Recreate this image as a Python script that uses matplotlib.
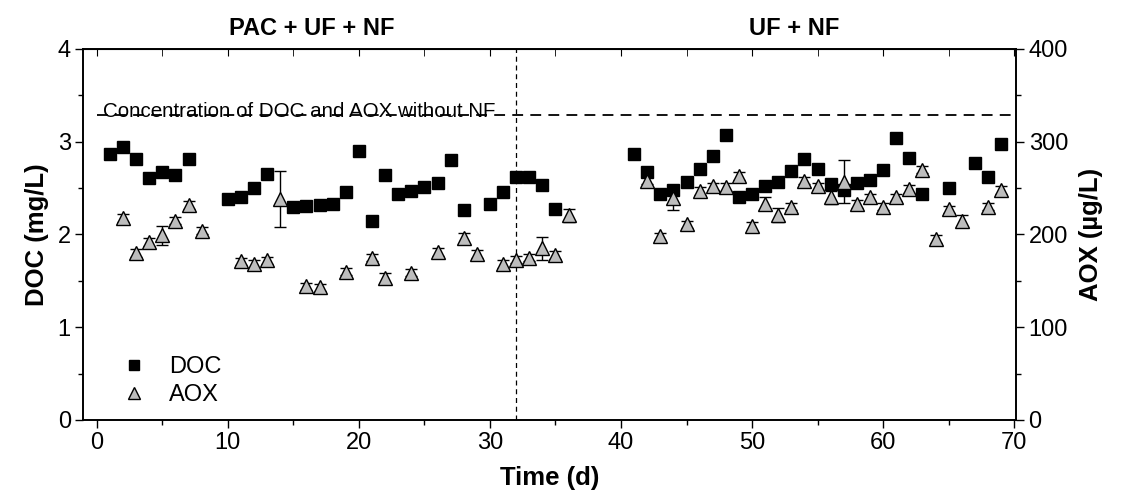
import matplotlib.pyplot as plt
import numpy as np

plt.rcParams['font.family'] = ['Liberation Sans', 'DejaVu Sans']

# DOC (mg/L), left axis
doc_days = [1, 2, 3, 4, 5, 6, 7, 10, 11, 12, 13, 15, 16, 17, 18, 19, 20, 21, 22, 23,
            24, 25, 26, 27, 28, 30, 31, 32, 33, 34, 35,
            41, 42, 43, 44, 45, 46, 47, 48, 49, 50, 51, 52, 53, 54, 55, 56, 57, 58,
            59, 60, 61, 62, 63, 65, 67, 68, 69]
doc_vals = [2.87, 2.94, 2.81, 2.61, 2.67, 2.64, 2.81, 2.38, 2.40, 2.50, 2.65, 2.30,
            2.31, 2.32, 2.33, 2.46, 2.90, 2.15, 2.64, 2.44, 2.47, 2.51, 2.56, 2.80,
            2.26, 2.33, 2.46, 2.62, 2.62, 2.53, 2.28,
            2.87, 2.67, 2.44, 2.48, 2.57, 2.71, 2.85, 3.07, 2.40, 2.44, 2.52, 2.57,
            2.68, 2.81, 2.71, 2.54, 2.48, 2.55, 2.59, 2.70, 3.04, 2.83, 2.44, 2.50,
            2.77, 2.62, 2.98]

# AOX (ug/L), right axis
aox_days = [2, 3, 4, 5, 6, 7, 8, 11, 12, 13, 14, 16, 17, 19, 21, 22, 24, 26, 28, 29,
            31, 32, 33, 34, 35, 36,
            42, 43, 44, 45, 46, 47, 48, 49, 50, 51, 52, 53, 54, 55, 56, 57, 58, 59,
            60, 61, 62, 63, 64, 65, 66, 68, 69]
aox_vals = [218, 180, 192, 199, 215, 232, 204, 171, 168, 172, 238, 144, 143, 160,
            175, 153, 159, 181, 196, 179, 168, 173, 175, 185, 178, 221,
            258, 198, 239, 211, 247, 252, 251, 263, 209, 233, 221, 230, 258, 252,
            240, 257, 233, 240, 230, 240, 249, 270, 195, 227, 215, 230, 248]
aox_err = [4, 4, 4, 10, 4, 4, 4, 4, 4, 4, 30, 4, 4, 4, 4, 5, 4, 4, 6, 4,
           4, 4, 4, 12, 4, 7,
           4, 4, 13, 4, 4, 4, 4, 4, 5, 7, 8, 4, 4, 4, 7, 23, 4, 4,
           4, 4, 4, 4, 4, 4, 6, 4, 4]

without_nf = 3.29   # mg/L, dashed reference
switch_day = 32

fig = plt.figure(figsize=(11.24, 5.01), dpi=100)
ax = fig.add_axes([0.0741, 0.1617, 0.8299, 0.7405])
ax2 = ax.twinx()

ax.plot(doc_days, doc_vals, 's', color='black', ms=8.5, label='DOC')
ax2.errorbar(aox_days, aox_vals, yerr=aox_err, fmt='none', ecolor='black',
             elinewidth=1, capsize=4, capthick=1)
ax2.plot(aox_days, aox_vals, '^', mfc='#bdbdbd', mec='black', mew=1, ms=10,
         label='AOX')

ax.plot([0, 70], [without_nf, without_nf], '--', color='black', lw=1.3,
        dashes=(6, 4))
ax.axvline(switch_day, color='black', lw=0.9, ls=(0, (4, 3)))
ax.text(0.45, 3.265, 'Concentration of DOC and AOX without NF', fontsize=14.8,
        va='baseline', ha='left')

ax.set_xlim(-1.03, 70.15)
ax.set_ylim(0, 4)
ax2.set_ylim(0, 400)
ax.set_xticks(np.arange(0, 71, 10))
ax.set_xticks(np.arange(5, 71, 10), minor=True)
ax.set_yticks([0, 1, 2, 3, 4])
ax.set_yticks([0.5, 1.5, 2.5, 3.5], minor=True)
ax2.set_yticks([0, 100, 200, 300, 400])
ax2.set_yticks([50, 150, 250, 350], minor=True)

ax.tick_params(axis='both', which='major', labelsize=17, direction='out',
               length=6, width=1, pad=3)
ax.tick_params(axis='both', which='minor', direction='out', length=3.5, width=1)
ax2.tick_params(axis='y', which='major', labelsize=17, direction='out',
                length=6, width=1, pad=3)
ax2.tick_params(axis='y', which='minor', direction='out', length=3.5, width=1)

# top ticks point inward
sec = ax.secondary_xaxis('top')
sec.set_xticks(np.arange(0, 71, 10))
sec.set_xticks(np.arange(5, 71, 10), minor=True)
sec.tick_params(which='both', direction='in', length=5, labeltop=False)

for a in (ax, ax2):
    for s in a.spines.values():
        s.set_linewidth(1.2)

ax.set_xlabel('Time (d)', fontsize=18.5, fontweight='bold', labelpad=8)
ax.set_ylabel('DOC (mg/L)', fontsize=18.5, fontweight='bold', labelpad=6)
ax2.set_ylabel('AOX (\u00b5g/L)', fontsize=18.5, fontweight='bold', labelpad=8)

tr = ax.get_xaxis_transform()
ax.text(16.4, 1.055, 'PAC + UF + NF', transform=tr, ha='center', va='center',
        fontsize=17, fontweight='bold')
ax.text(53.2, 1.055, 'UF + NF', transform=tr, ha='center', va='center',
        fontsize=17, fontweight='bold')

h1, l1 = ax.get_legend_handles_labels()
h2, l2 = ax2.get_legend_handles_labels()
ax2.legend(h1 + h2, l1 + l2, loc='lower left', bbox_to_anchor=(0.016, -0.02),
           frameon=False, fontsize=17, handlelength=1.2, handletextpad=0.9,
           labelspacing=0.25, markerscale=0.8)

fig.savefig('out.png', dpi=100)
